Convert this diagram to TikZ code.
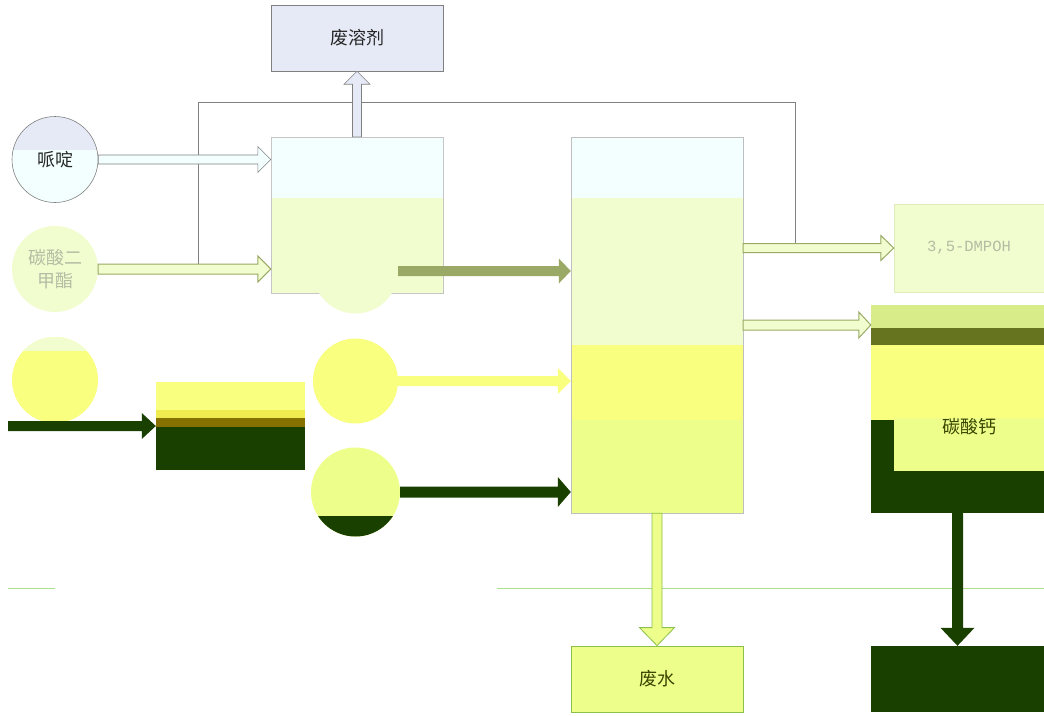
\documentclass[tikz,border=0pt]{standalone}
\usepackage{fontspec}
\newfontfamily\cjk{Noto Sans CJK SC}
\newfontfamily\monof{Liberation Mono}
\usetikzlibrary{calc}
\definecolor{lav}{HTML}{E6EAF6}
\definecolor{icecyan}{HTML}{F3FFFF}
\definecolor{paleyg}{HTML}{F1FDCF}
\definecolor{brightyel}{HTML}{F9FF7E}
\definecolor{limey}{HTML}{EDFF8A}
\definecolor{olivec}{HTML}{9AAA66}
\definecolor{darkgr}{HTML}{1A4000}
\definecolor{lightolive}{HTML}{D8EC8A}
\definecolor{midolive}{HTML}{66731F}
\definecolor{brownc}{HTML}{857000}
\definecolor{mustard}{HTML}{F0EC50}
\definecolor{greenedge}{HTML}{8CC04A}
\definecolor{grayedge}{HTML}{808080}
\definecolor{paletext}{HTML}{B4BCA4}
\definecolor{darktext}{HTML}{3A4600}
\definecolor{thingreen}{HTML}{A8E08C}

% horizontal block arrow: style, from, to, half shaft, half head, head length
\newcommand{\harrowpath}[6]{\path[#1] let \p1=(#2), \p2=(#3) in
  (\x1,\y1+#4) -- (\x2-#6,\y1+#4) -- (\x2-#6,\y1+#5) -- (\x2,\y1) --
  (\x2-#6,\y1-#5) -- (\x2-#6,\y1-#4) -- (\x1,\y1-#4) -- cycle;}
% downward block arrow
\newcommand{\darrowpath}[6]{\path[#1] let \p1=(#2), \p2=(#3) in
  (\x1-#4,\y1) -- (\x1-#4,\y2+#6) -- (\x1-#5,\y2+#6) -- (\x1,\y2) --
  (\x1+#5,\y2+#6) -- (\x1+#4,\y2+#6) -- (\x1+#4,\y1) -- cycle;}
% upward block arrow
\newcommand{\uarrowpath}[6]{\path[#1] let \p1=(#2), \p2=(#3) in
  (\x1-#4,\y1) -- (\x1-#4,\y2-#6) -- (\x1-#5,\y2-#6) -- (\x1,\y2) --
  (\x1+#5,\y2-#6) -- (\x1+#4,\y2-#6) -- (\x1+#4,\y1) -- cycle;}
% colour band inside a node (offsets from the top)
\newcommand{\band}[3]{\fill[#1] ($(path picture bounding box.north west)+(0,#2)$)
  rectangle ($(path picture bounding box.north east)+(0,#3)$);}

\tikzset{
  boxs/.style={rectangle, inner sep=0pt, font=\cjk\fontsize{18}{20}\selectfont},
  circs/.style={circle, inner sep=0pt, minimum size=86pt, font=\cjk\fontsize{18}{23}\selectfont},
  arLav/.style={fill=lav, draw=grayedge, line width=0.6pt},
  arIce/.style={fill=icecyan, draw=grayedge, line width=0.6pt},
  arPale/.style={fill=paleyg, draw=olivec, line width=1pt},
  arOlive/.style={fill=olivec},
  arYel/.style={fill=brightyel},
  arDark/.style={fill=darkgr},
  arLime/.style={fill=limey, draw=greenedge, line width=0.8pt},
  recyc/.style={draw=grayedge, line width=0.8pt},
}

\begin{document}
\begin{tikzpicture}[x=1pt, y=-1pt]
\fill[white] (0,0) rectangle (1044,715);
\useasboundingbox (0,0) rectangle (1044,715);

% thin line
\draw[thingreen, line width=1pt] (8,588) -- (55,588);
\draw[thingreen, line width=1pt] (497,588) -- (1044,588);

% nodes
\node[boxs, minimum width=172pt, minimum height=66pt, fill=lav, draw=grayedge, text=black!85] (ws) at (357,38) {废溶剂};

\node[boxs, minimum width=172pt, minimum height=156pt, fill=paleyg, draw=gray!45,
  path picture={\band{icecyan}{0}{61}}] (r1) at (357,215) {};

\node[boxs, minimum width=172pt, minimum height=376pt, fill=limey, draw=gray!50,
  path picture={\band{icecyan}{0}{61}\band{paleyg}{61}{208}\band{brightyel}{208}{283}}] (r2) at (657,325) {};

\node[circs, fill=icecyan, draw=grayedge, line width=0.6pt, text=black!85,
  path picture={\band{lav}{0}{33}}] (pip) at (55,159.5) {哌啶};
\node[circs, fill=paleyg, text=paletext, align=center] (dmc) at (55,269) {碳酸二\\甲酯};
\node[circs, fill=brightyel, path picture={\band{paleyg}{0}{14}}] (c3) at (55,380) {};

\node[circs, minimum size=85pt, fill=paleyg] (m1) at (355.5,271) {};
\node[circs, minimum size=85pt, fill=brightyel] (m2) at (355.5,381) {};
\node[circs, minimum size=89pt, fill=limey, path picture={\band{darkgr}{68}{95}}] (m3) at (355.5,492) {};

\node[boxs, minimum width=149pt, minimum height=88pt, fill=darkgr,
  path picture={\band{brightyel}{0}{28}\band{mustard}{28}{36}\band{brownc}{36}{45}}] (b4) at (230.5,426) {};

\node[boxs, minimum width=150pt, minimum height=88pt, fill=paleyg, draw=paleyg!80!olivec,
  font=\monof\fontsize{15.5}{18}\selectfont, text=paletext] (dmp) at (969,248) {3,5-DMPOH};

\node[boxs, minimum width=173pt, minimum height=208pt, fill=darkgr,
  path picture={\band{lightolive}{0}{23}\band{midolive}{23}{40}\band{brightyel}{40}{115}}] (r3) at (957.5,409) {};

\node[boxs, minimum width=150pt, minimum height=88pt, fill=limey, text=darktext,
  path picture={\band{brightyel}{0}{35}}] (caco) at (969,427) {碳酸钙};

\node[boxs, minimum width=172pt, minimum height=66pt, fill=limey, draw=greenedge, line width=0.8pt, text=darktext] (ww) at (657,679) {废水};
\node[boxs, minimum width=173pt, minimum height=66pt, fill=darkgr] (br) at (957.5,679) {};

% recycle line
\coordinate (j1) at ($(r2.east |- dmp.west)+(52,0)$);
\coordinate (j2) at ($(dmc.east)+(100,0)$);
\draw[recyc] (j1) -- ++(0,-146) -| (j2);

% block arrows
\uarrowpath{arLav}{r1.north}{ws.south}{4.5pt}{13pt}{13pt}
\harrowpath{arIce}{pip.east}{r1.west |- pip.east}{4.5pt}{13pt}{13pt}
\harrowpath{arPale}{dmc.east}{r1.west |- dmc.east}{5pt}{13pt}{13pt}
\coordinate (c3in) at (8,426);
\harrowpath{arDark}{c3in}{b4.west |- c3in}{5pt}{13pt}{14pt}
\harrowpath{arOlive}{m1.east}{r2.west |- m1.east}{5pt}{12.5pt}{12pt}
\harrowpath{arYel}{m2.east}{r2.west |- m2.east}{5pt}{13pt}{13pt}
\harrowpath{arDark}{m3.east}{r2.west |- m3.east}{5.5pt}{15pt}{13pt}
\harrowpath{arPale}{r2.east |- dmp.west}{dmp.west}{4.5pt}{12.5pt}{13pt}
\harrowpath{arPale}{r2.east}{r3.west |- r2.east}{5pt}{13pt}{12pt}
\darrowpath{arLime}{r2.south}{ww.north}{5pt}{17.5pt}{18pt}
\darrowpath{arDark}{r3.south}{br.north}{5.5pt}{17pt}{18pt}
\end{tikzpicture}
\end{document}
